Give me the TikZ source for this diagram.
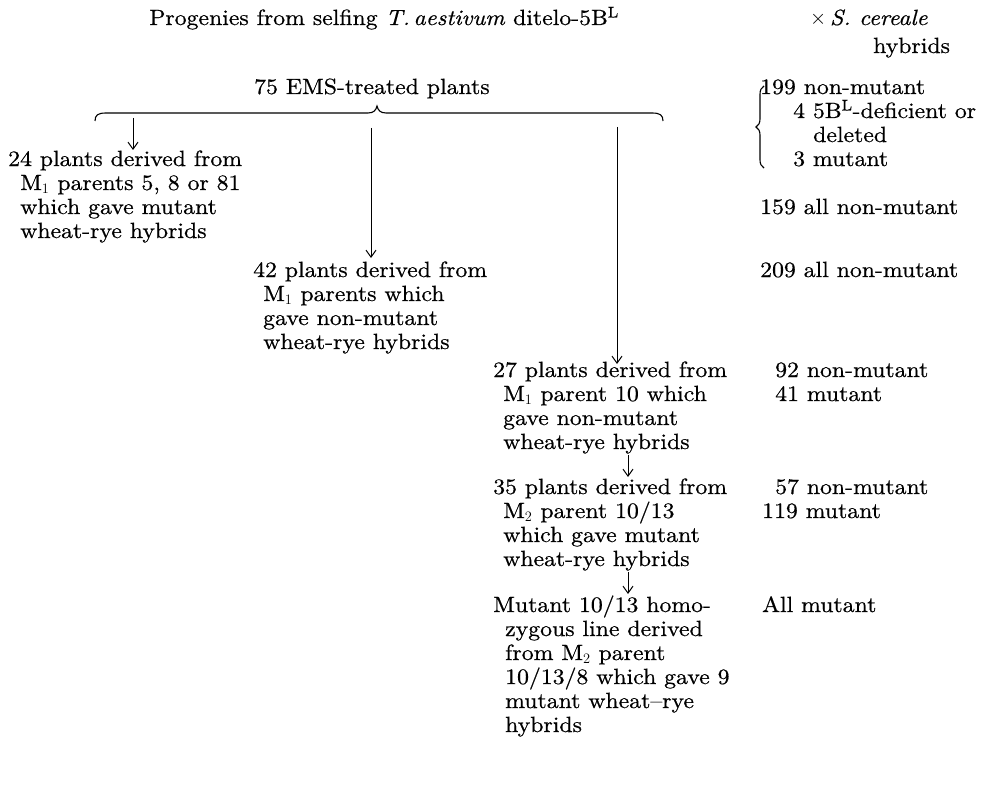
\documentclass[tikz,border=0pt]{standalone}
\usepackage{fontspec}
\setmainfont{lmroman10-regular.otf}[FakeStretch=1.08,FakeBold=0.6,ItalicFont=lmroman10-italic.otf,BoldFont=lmroman10-bold.otf]
\usetikzlibrary{arrows.meta,decorations.pathreplacing}
\begin{document}
\begin{tikzpicture}[x=1pt,y=-1pt,
  txt/.style={anchor=base west,align=left,inner sep=0pt,font=\fontsize{22}{24}\selectfont},
  arr/.style={line width=1pt,-{Straight Barb[length=7pt,width=10pt,line width=1pt]}},
  bracepath/.style={line width=1.1pt}]
\useasboundingbox (0,0) rectangle (983,789);
% headings
\node[txt,anchor=base] (title) at (384,25) {Progenies from selfing \textit{T.\,aestivum} ditelo-5B\textsuperscript{L}};
\node[txt] (hyb1) at (810,25) {$\times$\,\textit{S. cereale}};
\node[txt] (hyb2) at (873,53) {hybrids};
\node[txt] (ems) at (254,94) {75 EMS-treated plants};
% right column
\node[txt] (r199) at (760,94) {199 non-mutant};
\node[txt] (r4) at (793,118) {4 5B\textsuperscript{L}-deficient or};
\node[txt] (rdel) at (813,142) {deleted};
\node[txt] (r3) at (793,166) {3 mutant};
\node[txt] (r159) at (760,214) {159 all non-mutant};
\node[txt] (r209) at (760,277) {209 all non-mutant};
\node[txt] (r92) at (775,377) {92 non-mutant};
\node[txt] (r41) at (775,401) {41 mutant};
\node[txt] (r57) at (775,494) {57 non-mutant};
\node[txt] (r119) at (762,518) {119 mutant};
\node[txt] (rall) at (762,612) {All mutant};
% blocks (base anchor = last line)
\node[txt] (b1) at (8,238) {24 plants derived from\\\hspace*{12pt}M$_1$ parents 5, 8 or 81\\\hspace*{12pt}which gave mutant\\\hspace*{12pt}wheat-rye hybrids};
\node[txt] (b2) at (253,349) {42 plants derived from\\\hspace*{10pt}M$_1$ parents which\\\hspace*{10pt}gave non-mutant\\\hspace*{10pt}wheat-rye hybrids};
\node[txt] (b3) at (493,449) {27 plants derived from\\\hspace*{10pt}M$_1$ parent 10 which\\\hspace*{10pt}gave non-mutant\\\hspace*{10pt}wheat-rye hybrids};
\node[txt] (b4) at (493,566) {35 plants derived from\\\hspace*{10pt}M$_2$ parent 10/13\\\hspace*{10pt}which gave mutant\\\hspace*{10pt}wheat-rye hybrids};
\node[txt] (b5) at (493,732) {Mutant 10/13 homo-\\\hspace*{12pt}zygous line derived\\\hspace*{12pt}from M$_2$ parent\\\hspace*{12pt}10/13/8 which gave 9\\\hspace*{12pt}mutant wheat--rye\\\hspace*{12pt}hybrids};
% top brace
\draw[bracepath] (95,121) .. controls (95,115) and (98,113) .. (106,113) -- (368,113)
  .. controls (374,113) and (376,110) .. (377,106)
  .. controls (378,110) and (380,113) .. (386,113) -- (652,113)
  .. controls (660,113) and (663,115) .. (663,121);
% right brace
\coordinate (rbb) at (764,168);
\coordinate (rbt) at (764,86);
\draw[bracepath,decorate,decoration={brace,amplitude=8pt}] (rbb) -- (rbt);
% arrows
\coordinate (a1s) at (133,118); \coordinate (a1e) at (133,150);
\coordinate (a2s) at (371,128); \coordinate (a2e) at (371,258);
\coordinate (a3s) at (617,127); \coordinate (a3e) at (617,364);
\coordinate (a4s) at (628,455); \coordinate (a4e) at (628,477);
\coordinate (a5s) at (628,572); \coordinate (a5e) at (628,594);
\draw[arr] (a1s) -- (a1e);
\draw[arr] (a2s) -- (a2e);
\draw[arr] (a3s) -- (a3e);
\draw[arr] (a4s) -- (a4e);
\draw[arr] (a5s) -- (a5e);
\end{tikzpicture}
\end{document}
